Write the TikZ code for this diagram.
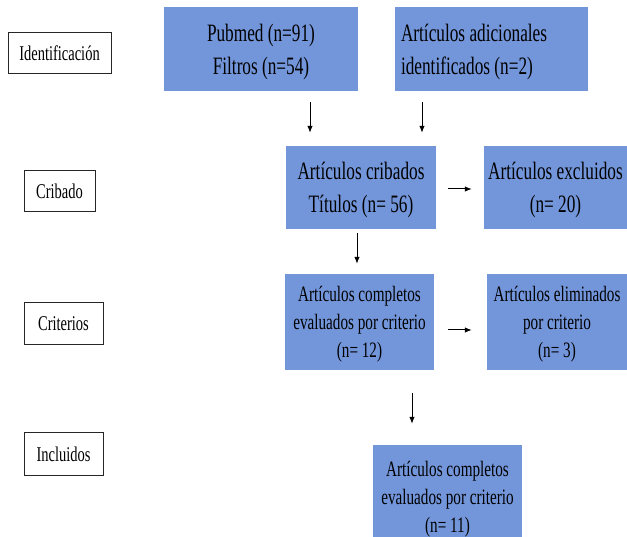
\documentclass[tikz,border=0pt]{standalone}
\usepackage{fontspec}
\setmainfont[FakeStretch=0.69]{Liberation Serif}
\usetikzlibrary{arrows.meta}
\definecolor{azulcaja}{RGB}{115,150,219}

\begin{document}
\begin{tikzpicture}[x=1pt, y=-1pt,
  caja/.style={fill=azulcaja, inner sep=0pt, align=center, text depth=-4pt},
  etapa/.style={draw=black!85, line width=1pt, inner sep=0pt, fill=white,
    font=\fontsize{21}{24}\selectfont},
  grande/.style={font=\fontsize{25}{33}\selectfont},
  chica/.style={font=\fontsize{22}{28}\selectfont},
  flecha/.style={-{Latex[length=7pt,width=5.5pt]}, line width=1pt}]

  \clip (0,0) rectangle (627,537);

  % --- etapas (columna izquierda) ---
  \node[etapa, minimum width=103pt, minimum height=41pt] (identificacion) at (59.5,53.5) {Identificación};
  \node[etapa, minimum width=71pt, minimum height=41pt] (cribado) at (59.5,191.5) {Cribado};
  \node[etapa, minimum width=79pt, minimum height=42pt] (criterios) at (63.5,324) {Criterios};
  \node[etapa, minimum width=79pt, minimum height=42pt] (incluidos) at (63.5,454) {Incluidos};

  % --- identificacion ---
  \node[caja, grande, minimum width=194pt, minimum height=84pt] (pubmed) at (261,49)
    {Pubmed (n=91)\\Filtros (n=54)};
  \node[caja, minimum width=193pt, minimum height=84pt] (adicionales) at (491.5,49) {};
  \node[grande, align=left, anchor=west, inner sep=0pt, text depth=-4pt] (adicionalestexto)
    at ([xshift=6pt]adicionales.west) {Artículos adicionales\\identificados (n=2)};

  % --- cribado ---
  \node[caja, grande, minimum width=150pt, minimum height=83pt] (cribados) at (361,187.5)
    {Artículos cribados\\Títulos (n= 56)};
  \node[caja, grande, minimum width=143pt, minimum height=83pt] (excluidos) at (555.5,187.5)
    {Artículos excluidos\\(n= 20)};

  % --- criterios ---
  \node[caja, chica, minimum width=149pt, minimum height=96pt] (completos) at (359.5,322)
    {Artículos completos\\evaluados por criterio\\(n= 12)};
  \node[caja, chica, minimum width=140pt, minimum height=96pt] (eliminados) at (557,322)
    {Artículos eliminados\\por criterio\\(n= 3)};

  % --- incluidos ---
  \node[caja, chica, minimum width=149pt, minimum height=104pt] (final) at (447.5,497)
    {Artículos completos\\evaluados por criterio\\(n= 11)};

  % --- flechas ---
  \draw[flecha, shorten <=11pt, shorten >=13pt] ([xshift=49pt]pubmed.south) -- ([xshift=-51pt]cribados.north);
  \draw[flecha, shorten <=11pt, shorten >=13pt] ([xshift=-69.5pt]adicionales.south) -- ([xshift=61pt]cribados.north);
  \draw[flecha, shorten <=12pt, shorten >=12pt] ([yshift=-1.5pt]cribados.east) -- ([yshift=-1.5pt]excluidos.west);
  \draw[flecha, shorten <=4pt, shorten >=10pt] ([xshift=-4pt]cribados.south) -- ([xshift=-4pt]cribados.south |- completos.north);
  \draw[flecha, shorten <=14pt, shorten >=15pt] ([yshift=-8pt]completos.east) -- ([yshift=-8pt]eliminados.west);
  \draw[flecha, shorten <=23pt, shorten >=21pt] ([xshift=52.5pt]completos.south) -- ([xshift=52.5pt]completos.south |- final.north);

\end{tikzpicture}
\end{document}
